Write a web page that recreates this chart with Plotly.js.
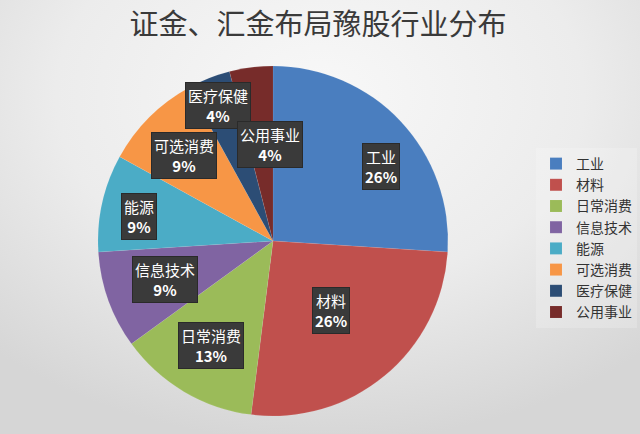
<!DOCTYPE html>
<html>
<head>
<meta charset="utf-8">
<script src="https://cdn.plot.ly/plotly-3.0.1.min.js"></script>
<style>
  html, body { margin: 0; padding: 0; }
  body {
    width: 640px; height: 434px; overflow: hidden;
    background: radial-gradient(ellipse 75% 80% at 50% 22%, #f8f8f8 0%, #ececec 55%, #d6d6d6 100%);
  }
  #chart { width: 640px; height: 434px; }
</style>
</head>
<body>
<div id="chart"></div>
<script>
// ---- data ----
const categories = ["工业", "材料", "日常消费", "信息技术", "能源", "可选消费", "医疗保健", "公用事业"];
const values = [26, 26, 13, 9, 9, 9, 4, 4];
const colors = ["#4a7ebf", "#c0504d", "#9bbb59", "#8064a2", "#4bacc6", "#f79646", "#2c4d75", "#772c2a"];

// ---- label box placement (pixel centres, layout only) ----
const labelPos = [
  [381, 167], [331, 310], [211, 345], [165, 279],
  [139, 216], [184, 155], [218, 105], [270, 144]
];

const W = 640, H = 434;
const total = values.reduce((a, b) => a + b, 0);

const trace = {
  type: "pie",
  labels: categories,
  values: values,
  sort: false,
  direction: "clockwise",
  rotation: 0,
  textinfo: "none",
  hoverinfo: "label+percent",
  marker: { colors: colors, line: { color: "rgba(255,255,255,0.15)", width: 0.5 } },
  domain: { x: [98 / W, 448 / W], y: [18 / H, 368 / H] }
};

const annotations = categories.map((c, i) => {
  const pct = Math.round(values[i] / total * 100) + "%";
  const [px, py] = labelPos[i];
  return {
    xref: "paper", yref: "paper", x: px / W, y: 1 - py / H,
    xanchor: "center", yanchor: "middle",
    text: c + "<br><b>" + pct + "</b>", showarrow: false,
    font: { family: "Noto Sans CJK SC, sans-serif", size: 15, color: "#ffffff" },
    bgcolor: "#3a3a3a", bordercolor: "#2a2a2a", borderwidth: 1, borderpad: 2
  };
});

const layout = {
  width: W, height: H,
  margin: { l: 0, r: 0, t: 0, b: 0, autoexpand: false },
  paper_bgcolor: "rgba(0,0,0,0)",
  plot_bgcolor: "rgba(0,0,0,0)",
  title: {
    text: "证金、汇金布局豫股行业分布",
    x: 318 / W, xanchor: "center",
    y: 1 - 25 / H, yanchor: "middle",
    font: { family: "Noto Sans CJK SC, sans-serif", size: 29, color: "#3a3a3a" }
  },
  showlegend: true,
  legend: {
    x: 536 / W, y: 1 - 148 / H, xanchor: "left", yanchor: "top",
    bgcolor: "rgba(255,255,255,0.2)",
    font: { family: "Noto Sans CJK SC, sans-serif", size: 14, color: "#333333" },
    itemwidth: 30,
    tracegroupgap: 0
  },
  annotations: annotations
};

Plotly.newPlot("chart", [trace], layout, { displayModeBar: false, staticPlot: true });
</script>
</body>
</html>
